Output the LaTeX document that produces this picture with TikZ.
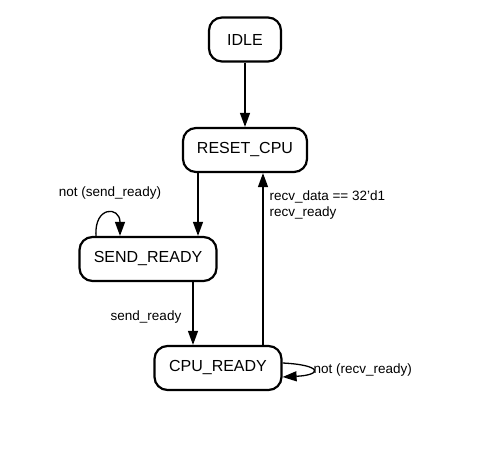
\documentclass[tikz,border=0pt]{standalone}
\usepackage{fontspec}
\setmainfont{Liberation Sans}
\usetikzlibrary{arrows.meta,positioning}

\begin{document}
\begin{tikzpicture}[
x=1pt, y=-1pt,
state/.style={draw, line width=2.2pt, rounded corners=13pt, align=center, minimum height=44pt, font=\fontsize{16}{19}\selectfont},
arrow/.style={-{Triangle[length=14pt, width=10pt]}, line width=1.3pt},
cond/.style={font=\fontsize{13.5}{16}\selectfont, align=left}
]
\useasboundingbox (0,0) rectangle (499,449);

\node[state, minimum width=72pt] (idle) at (245,39.5) {IDLE};
\node[state, minimum width=124pt] (reset) at (245,150) {RESET\_CPU};
\node[state, minimum width=137pt] (send) at (148,259) {SEND\_READY};
\node[state, minimum width=127pt] (cpu) at (218,368) {CPU\_READY};

\draw[arrow] (idle) -- (reset);
\draw[arrow] ([xshift=-47pt]reset.south) -- ([xshift=-47pt]reset.south |- send.north);
\draw[arrow] ([xshift=45pt]send.south) -- ([xshift=45pt]send.south |- cpu.north);
\draw[arrow] ([xshift=45pt]cpu.north) -- ([xshift=45pt]cpu.north |- reset.south);

% self loops
\draw[arrow] ([xshift=-52pt]send.north) .. controls +(-2,-30) and +(0,-30) .. ([xshift=-28pt]send.north);
\draw[arrow] ([yshift=5pt]cpu.east) .. controls +(40,2) and +(40,-2) .. ([yshift=-9pt]cpu.east);

% conditions
\node[cond, anchor=north west] (c1) at (266,187) {recv\_data == 32'd1\\recv\_ready};
\node[cond] (c2) at (110,193) {not (send\_ready)};
\node[cond] (c3) at (146,317) {send\_ready};
\node[cond, anchor=west] (c4) at (310,370) {not (recv\_ready)};
\end{tikzpicture}
\end{document}
